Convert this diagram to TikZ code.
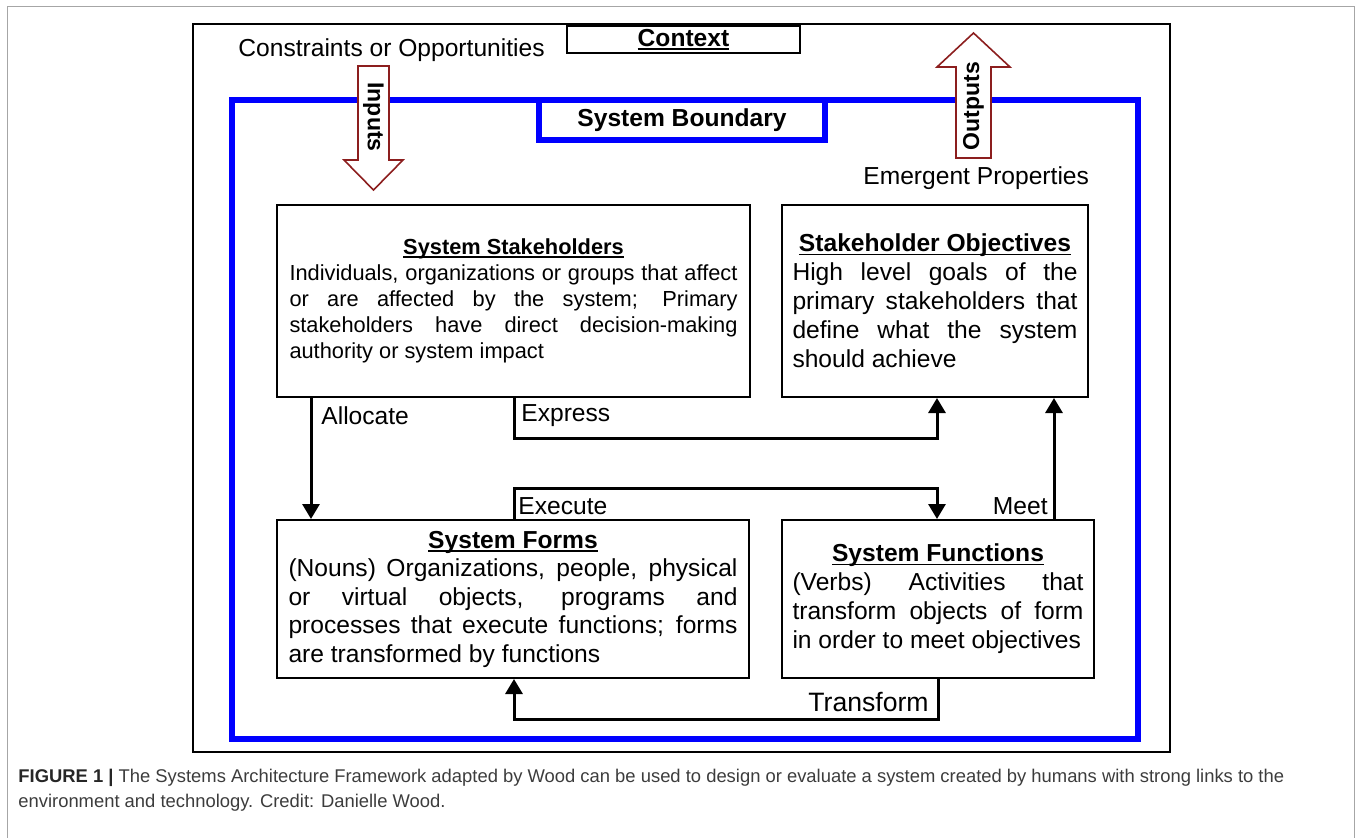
\documentclass[tikz,border=0pt]{standalone}
\usepackage{fontspec}
\setmainfont{Liberation Sans}
\usetikzlibrary{arrows.meta,positioning}
\definecolor{bndblue}{RGB}{0,0,255}
\definecolor{arrowred}{RGB}{140,30,30}
\definecolor{capgray}{RGB}{60,60,60}
\setlength{\parindent}{0pt}
\hyphenpenalty=10000
\exhyphenpenalty=10000
\tolerance=9999
\hbadness=10000

% bold title with a rule close under the baseline
\newcommand{\headline}[1]{\setbox0\hbox{\bfseries #1}\rlap{\rule[-1.8pt]{\wd0}{0.9pt}}\box0}

\tikzset{
  box/.style={draw, line width=1pt, align=justify, inner sep=0pt},
  conn/.style={line width=1.5pt, -{Triangle[length=7.5pt,width=8.5pt]}},
  lbl/.style={inner sep=0pt, font=\fontsize{12.3}{14}\selectfont},
  blockarrow/.style={draw=arrowred, line width=0.8pt, fill=white},
  arrowtext/.style={inner sep=0pt, font=\bfseries\fontsize{11.5}{13}\selectfont},
}

\begin{document}
\begin{tikzpicture}[x=0.5pt, y=-0.5pt]
\useasboundingbox (0,0) rectangle (1360,837);

% Page frame
\draw[gray!70, line width=0.5pt] (7,845) -- (7,6) -- (1354,6) -- (1354,845);

% Context
\node[draw, line width=1.3pt, minimum width=488.5pt, minimum height=364pt, inner sep=0pt] (context) at (681.5,388) {};
\node[draw, line width=1pt, minimum width=116.5pt, minimum height=13.5pt, inner sep=0pt,
      font=\fontsize{12.3}{14}\selectfont] (ctxlabel) at (683.5,39.5) {\headline{Context}};
\node[lbl, anchor=base west] (constraints) at (238,56) {Constraints or Opportunities};

% System boundary
\node[draw=bndblue, line width=3pt, minimum width=453pt, minimum height=319.5pt, inner sep=0pt] (boundary) at (685,419.5) {};
\node[draw=bndblue, fill=white, line width=3pt, minimum width=143pt, minimum height=20pt, inner sep=0pt,
      font=\bfseries\fontsize{12.3}{14}\selectfont] (bndlabel) at (682,120) {System Boundary};

% Inputs / Outputs
\draw[blockarrow] (358,66) -- (389,66) -- (389,160) -- (403,160) -- (373.5,190) -- (344,160) -- (358,160) -- cycle;
\node[arrowtext, rotate=-90] (inputs) at (373.5,117) {Inputs};
\draw[blockarrow] (956,158) -- (956,67) -- (937,67) -- (973.5,33) -- (1010,67) -- (991,67) -- (991,158) -- cycle;
\node[arrowtext, rotate=90] (outputs) at (973.5,106) {Outputs};
\node[lbl, anchor=base west] (emergent) at (863,184) {Emergent Properties};

% Boxes
\node[box, minimum width=236.5pt, minimum height=96pt, text width=224pt,
      font=\fontsize{10.9}{13}\selectfont] (stake) at (513.5,301)
  {{\centering\headline{System Stakeholders}\par}Individuals, organizations or groups that affect\linebreak
   or are affected by the system; Primary\linebreak stakeholders have direct decision-making\linebreak authority or system impact};
\node[box, minimum width=153pt, minimum height=96pt, text width=142.5pt,
      font=\fontsize{12.3}{14.5}\selectfont] (obj) at (935,301)
  {{\centering\headline{Stakeholder Objectives}\par}High level goals of the primary stakeholders that define what the system should achieve};
\node[box, minimum width=236pt, minimum height=79pt, text width=224.5pt,
      font=\fontsize{12.3}{14.25}\selectfont] (forms) at (513,599)
  {{\centering\headline{System Forms}\par}(Nouns) Organizations, people, physical or virtual objects, programs and processes that execute functions; forms are transformed by functions};
\node[box, minimum width=156pt, minimum height=79pt, text width=145.5pt,
      font=\fontsize{12.3}{14.5}\selectfont] (func) at (938,599)
  {{\centering\headline{System Functions}\par}(Verbs) Activities that transform objects of form in order to meet objectives};

% Connections
\draw[conn] ([xshift=17.5pt]stake.south west) -- ([xshift=17.5pt]forms.north west);
\draw[conn] ([xshift=119pt]stake.south west) -- ++(0,40) -| ([xshift=78pt]obj.south west);
\draw[conn] ([xshift=119pt]forms.north west) -- ++(0,-31) -| ([xshift=78pt]func.north west);
\draw[conn] ([xshift=136.5pt]func.north west) -- ([xshift=136.5pt]obj.south west);
\draw[conn] ([xshift=78.5pt]func.south west) -- ++(0,40) -| ([xshift=119pt]forms.south west);

\node[lbl, anchor=base west] (allocate) at (321,424) {Allocate};
\node[lbl, anchor=base west] (express) at (521,421) {Express};
\node[lbl, anchor=base west] (execute) at (518,514) {Execute};
\node[lbl, anchor=base east] (meet) at (1048,514) {Meet};
\node[lbl, anchor=base east, font=\fontsize{13.3}{15}\selectfont] (transform) at (929,711) {Transform};

% Caption
\node[anchor=base west, inner sep=0pt, text=capgray, font=\fontsize{9.2}{12}\selectfont] (caption1) at (18,782)
  {{\color{black!85}\bfseries FIGURE 1 |} The Systems Architecture Framework adapted by Wood can be used to design or evaluate a system created by humans with strong links to the};
\node[anchor=base west, inner sep=0pt, text=capgray, font=\fontsize{9.2}{12}\selectfont] (caption2) at (18,807)
  {environment and technology. Credit: Danielle Wood.};
\end{tikzpicture}
\end{document}
